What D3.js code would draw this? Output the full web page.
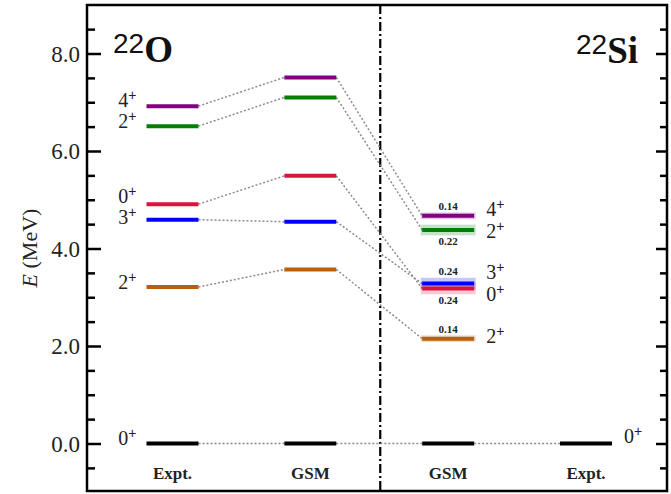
<!DOCTYPE html>
<html><head><meta charset="utf-8">
<script src="https://cdn.jsdelivr.net/npm/d3@7"></script>
<style>
html,body{margin:0;padding:0;background:#fff;}
svg{display:block;}
</style></head>
<body>
<svg id="chart" width="671" height="494"></svg>
<script>
// ---------- data ----------
const stateSpins = ["0", "2", "3", "0", "2", "4"];        // J (parity +)
const stateParity = ["+", "+", "+", "+", "+", "+"];
const expt22O  = [0.00, 3.21, 4.59, 4.91, 6.51, 6.92];
const gsm22O   = [0.00, 3.57, 4.55, 5.49, 7.10, 7.51];
const gsm22Si  = [0.00, 2.15, 3.28, 3.18, 4.38, 4.67];
const width22Si = [null, 0.14, 0.24, 0.24, 0.22, 0.14];   // widths (MeV)
const expt22Si = [0.00];
const columnLabels = ["Expt.", "GSM", "GSM", "Expt."];
const yTickValues = [0, 2, 4, 6, 8];
const yTickLabels = ["0.0", "2.0", "4.0", "6.0", "8.0"];
const nucleusLabels = [{mass: "22", el: "O"}, {mass: "22", el: "Si"}];

// ---------- styles ----------
const stateColors = ["#000000", "#b8600c", "#0000ff", "#dc143c", "#008000", "#800080"];

// ---------- layout ----------
const W = 671, H = 494;
const frame = {left: 87, right: 667, top: 5, bottom: 491};
const svg = d3.select("#chart");
const y = d3.scaleLinear().domain([-1, 9]).range([492.25, 4.75]);
const x = d3.scaleLinear().domain([0, 3]).range([172.5, 586]);
const halfW = 26;
const serif = "'Liberation Serif','DejaVu Serif',serif";
const sans = "'Liberation Sans','DejaVu Sans',sans-serif";

// axes
const minorTicks = d3.range(-0.5, 9.0, 0.5).filter(v => yTickValues.indexOf(v) < 0);
const leftAxis = d3.axisRight(y).tickValues(yTickValues).tickSize(14).tickFormat((d, i) => "");
const gL = svg.append("g").attr("transform", `translate(${frame.left},0)`).call(leftAxis);
gL.select(".domain").remove();
gL.selectAll("line").attr("stroke", "#000").attr("stroke-width", 2.5);
const gLm = svg.append("g").attr("transform", `translate(${frame.left},0)`)
  .call(d3.axisRight(y).tickValues(minorTicks).tickSize(8).tickFormat(""));
gLm.select(".domain").remove();
gLm.selectAll("line").attr("stroke", "#000").attr("stroke-width", 2.5);

const gR = svg.append("g").attr("transform", `translate(${frame.right},0)`)
  .call(d3.axisLeft(y).tickValues(yTickValues).tickSize(11).tickFormat(""));
gR.select(".domain").remove();
gR.selectAll("line").attr("stroke", "#000").attr("stroke-width", 2.5);
const gRm = svg.append("g").attr("transform", `translate(${frame.right},0)`)
  .call(d3.axisLeft(y).tickValues(minorTicks).tickSize(7).tickFormat(""));
gRm.select(".domain").remove();
gRm.selectAll("line").attr("stroke", "#000").attr("stroke-width", 2.5);

// tick labels
svg.append("g").selectAll("text").data(yTickValues).join("text")
  .attr("x", frame.left - 7).attr("y", d => y(d)).attr("dy", "0.35em")
  .attr("text-anchor", "end").attr("font-family", serif).attr("font-size", 23)
  .attr("fill", "#222").text((d, i) => yTickLabels[i]);

// y label
const yl = svg.append("text")
  .attr("transform", `translate(37,${(frame.top + frame.bottom) / 2}) rotate(-90)`)
  .attr("text-anchor", "middle").attr("font-family", serif).attr("font-size", 22).attr("fill", "#222");
yl.append("tspan").attr("font-style", "italic").text("E");
yl.append("tspan").text(" (MeV)");

// divider
svg.append("line").attr("x1", (x(1) + x(2)) / 2 + 1).attr("x2", (x(1) + x(2)) / 2 + 1)
  .attr("y1", frame.top).attr("y2", frame.bottom)
  .attr("stroke", "#000").attr("stroke-width", 2.2).attr("stroke-dasharray", "9,3,2,3");

// connectors
const columns = [expt22O, gsm22O, gsm22Si];
const conn = svg.append("g");
for (let c = 0; c < 2; c++) {
  columns[c].forEach((e, i) => {
    conn.append("line")
      .attr("x1", x(c) + halfW).attr("y1", y(e))
      .attr("x2", x(c + 1) - halfW).attr("y2", y(columns[c + 1][i]))
      .attr("stroke", "#8c8c8c").attr("stroke-width", 1.5).attr("stroke-dasharray", "2,2");
  });
}
expt22Si.forEach((e, i) => {
  conn.append("line")
    .attr("x1", x(2) + halfW).attr("y1", y(gsm22Si[i]))
    .attr("x2", x(3) - halfW).attr("y2", y(e))
    .attr("stroke", "#8c8c8c").attr("stroke-width", 1.5).attr("stroke-dasharray", "2,2");
});

// width bands for 22Si
const bandG = svg.append("g");
gsm22Si.forEach((e, i) => {
  if (width22Si[i] == null) return;
  bandG.append("rect")
    .attr("x", x(2) - halfW - 1.5).attr("width", 2 * halfW + 3)
    .attr("y", y(e + width22Si[i] / 2)).attr("height", y(e - width22Si[i] / 2) - y(e + width22Si[i] / 2))
    .attr("fill", stateColors[i]).attr("fill-opacity", 0.22);
});

// levels
const levelG = svg.append("g");
function drawLevels(vals, col) {
  vals.forEach((e, i) => {
    levelG.append("line")
      .attr("x1", x(col) - halfW).attr("x2", x(col) + halfW)
      .attr("y1", y(e)).attr("y2", y(e))
      .attr("stroke", stateColors[i]).attr("stroke-width", 4);
  });
}
drawLevels(expt22O, 0);
drawLevels(gsm22O, 1);
drawLevels(gsm22Si, 2);
drawLevels(expt22Si, 3);

// width labels
gsm22Si.forEach((e, i) => {
  if (width22Si[i] == null) return;
  const closeAbove = gsm22Si.some((o, j) => j !== i && width22Si[j] != null && o > e && o - e < 0.5);
  const yy = closeAbove ? y(e - width22Si[i] / 2) + 10 : y(e + width22Si[i] / 2) - 2.5;
  svg.append("text").attr("x", x(2)).attr("y", yy).attr("text-anchor", "middle")
    .attr("font-family", serif).attr("font-weight", "bold").attr("font-size", 11)
    .attr("fill", "#222").text(width22Si[i].toFixed(2));
});

// spin labels with collision avoidance
function placeLabels(items, gap) {
  items.sort((a, b) => a.y - b.y);
  for (let it = 0; it < 50; it++) {
    let moved = false;
    for (let k = 0; k < items.length - 1; k++) {
      const d = items[k + 1].y - items[k].y;
      if (d < gap) {
        const s = (gap - d) / 2;
        items[k].y -= s; items[k + 1].y += s; moved = true;
      }
    }
    if (!moved) break;
  }
  return items;
}
function spinText(xx, yy, i, anchor) {
  const t = svg.append("text").attr("x", xx).attr("y", yy).attr("text-anchor", anchor)
    .attr("font-family", serif).attr("font-size", 20).attr("fill", "#222");
  t.append("tspan").text(stateSpins[i]);
  t.append("tspan").attr("dy", "-0.5em").attr("font-size", 14).attr("font-family", sans).text(stateParity[i]);
}
placeLabels(expt22O.map((e, i) => ({i, y: y(e) + 1.5})), 21)
  .forEach(d => spinText(x(0) - halfW - 10, d.y, d.i, "end"));
placeLabels(gsm22Si.map((e, i) => ({i, y: y(e) + 4})).filter(d => d.i > 0), 22)
  .forEach(d => spinText(x(2) + halfW + 12, d.y, d.i, "start"));
expt22Si.forEach((e, i) => spinText(x(3) + halfW + 12, y(e) - 1, i, "start"));

// column labels
svg.append("g").selectAll("text").data(columnLabels).join("text")
  .attr("x", (d, i) => x(i)).attr("y", 479).attr("text-anchor", "middle")
  .attr("font-family", serif).attr("font-weight", "bold").attr("font-size", 17)
  .attr("fill", "#222").text(d => d);

// nucleus labels
function nucleus(xx, yy, d) {
  const t = svg.append("text").attr("x", xx).attr("y", yy).attr("fill", "#111");
  t.append("tspan").attr("font-family", sans).attr("font-size", 28).attr("dy", "-9").text(d.mass);
  t.append("tspan").attr("font-family", serif).attr("font-weight", "bold").attr("font-size", 37).attr("dy", "9").text(d.el);
}
nucleus(113, 62, nucleusLabels[0]);
nucleus(576, 63, nucleusLabels[1]);

// frame
svg.append("rect").attr("x", frame.left).attr("y", frame.top)
  .attr("width", frame.right - frame.left).attr("height", frame.bottom - frame.top)
  .attr("fill", "none").attr("stroke", "#000").attr("stroke-width", 2.5);
</script>
</body></html>
